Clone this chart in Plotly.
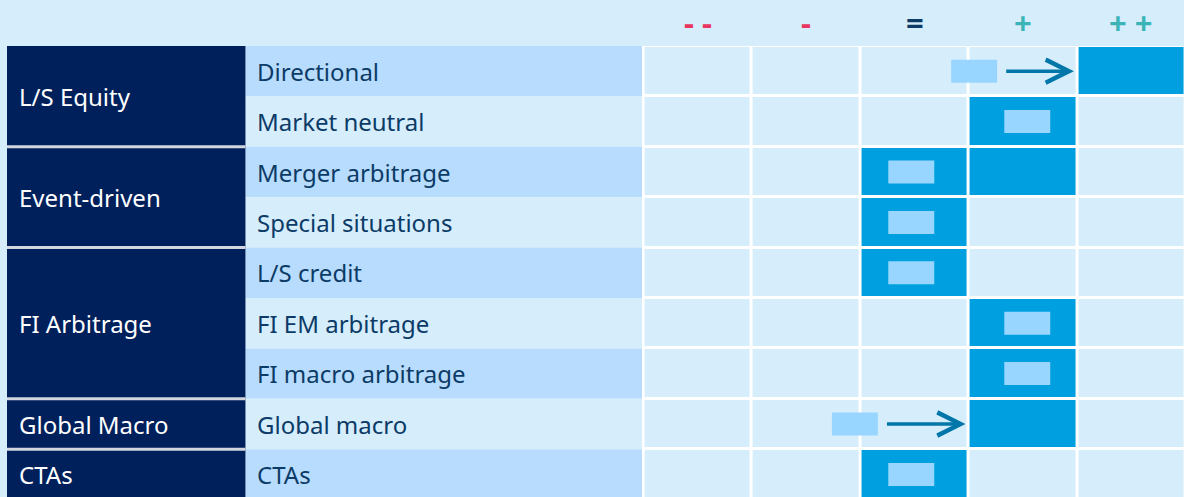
import plotly.graph_objects as go

# header scale
columns = ["- -", "-", "=", "+", "+ +"]
column_colors = ["#E8365E", "#E8365E", "#0B3B66", "#3BB4B8", "#3BB4B8"]

groups = ["L/S Equity", "Event-driven", "FI Arbitrage", "Global Macro", "CTAs"]
group_sizes = [2, 2, 3, 1, 1]

strategies = [
    "Directional", "Market neutral", "Merger arbitrage", "Special situations",
    "L/S credit", "FI EM arbitrage", "FI macro arbitrage", "Global macro", "CTAs",
]

# current view: first / last column covered (0 = "- -" ... 4 = "+ +")
current_from = [4, 3, 2, 2, 2, 3, 3, 3, 2]
current_to = [4, 3, 3, 2, 2, 3, 3, 3, 2]
# previous view, on the same column scale
previous = [2.55, 3.04, 1.97, 1.97, 1.97, 3.04, 3.04, 1.45, 1.97]

BG = "#D6EDFC"
BG_DARK = "#B8DCFD"
NAVY = "#00205C"
FILL = "#00A0E0"
PREV = "#99D6FF"
ARROW = "#0077A8"
TEXT = "#0B3B66"
FONT = "Noto Sans"

X_MIN, X_MAX = -6.372, 4.486
NAVY_LEFT, NAVY_RIGHT = X_MIN, -4.172
SUB_LEFT, SUB_RIGHT = NAVY_RIGHT, -0.514
PREV_W, PREV_H = 0.424, 0.456

n_rows = len(strategies)
rows = list(range(n_rows))

z = [[1 if current_from[r] <= c <= current_to[r] else 0 for c in range(len(columns))] for r in rows]

fig = go.Figure()

# grid of cells
fig.add_trace(go.Heatmap(
    x=list(range(len(columns))), y=rows, z=z,
    colorscale=[[0, BG], [1, FILL]], zmin=0, zmax=1,
    xgap=3, ygap=3, showscale=False, hoverinfo="skip",
))

# strategy column (alternating shades)
fig.add_trace(go.Bar(
    orientation="h", y=rows, base=[SUB_LEFT] * n_rows, x=[SUB_RIGHT - SUB_LEFT] * n_rows,
    width=1, marker=dict(color=[BG_DARK if r % 2 == 0 else BG for r in rows], line=dict(width=0)),
    hoverinfo="skip",
))

# group column
starts = [sum(group_sizes[:i]) for i in range(len(groups))]
centers = [s + (n - 1) / 2 for s, n in zip(starts, group_sizes)]
fig.add_trace(go.Bar(
    orientation="h", y=centers, base=[NAVY_LEFT] * len(groups), x=[NAVY_RIGHT - NAVY_LEFT] * len(groups),
    width=group_sizes, marker=dict(color=NAVY, line=dict(width=0)), hoverinfo="skip",
))

# previous view markers
fig.add_trace(go.Bar(
    orientation="h", y=rows, base=[p - PREV_W / 2 for p in previous], x=[PREV_W] * n_rows,
    width=PREV_H, marker=dict(color=PREV, line=dict(width=0)), hoverinfo="skip",
))

annotations = []
for k, (lab, col) in enumerate(zip(columns, column_colors)):
    annotations.append(dict(
        x=k, y=1, xref="x", yref="paper", yanchor="middle", yshift=24, showarrow=False,
        text=f"<b>{lab}</b>", font=dict(family=FONT, size=31, color=col),
    ))
for g, c in zip(groups, centers):
    annotations.append(dict(
        x=NAVY_LEFT, y=c, xref="x", yref="y", xanchor="left", xshift=9.5, showarrow=False,
        text=g, font=dict(family=FONT, size=24, color="white"),
    ))
for r, s in zip(rows, strategies):
    annotations.append(dict(
        x=SUB_LEFT, y=r, xref="x", yref="y", xanchor="left", xshift=9.5, showarrow=False,
        text=s, font=dict(family=FONT, size=24, color=TEXT),
    ))
# arrows where the view moved
for r in rows:
    if previous[r] + PREV_W / 2 < current_from[r] - 0.5:
        annotations.append(dict(
            x=current_from[r] - 0.53, y=r, ax=previous[r] + PREV_W / 2 + 0.07, ay=r,
            xref="x", yref="y", axref="x", ayref="y", text="", showarrow=True,
            arrowhead=5, arrowsize=1.3, arrowwidth=3.5, arrowcolor=ARROW, standoff=0,
        ))

# group separators
shapes = []
for s in starts[1:]:
    shapes.append(dict(
        type="line", xref="x", yref="y", x0=NAVY_LEFT, x1=NAVY_RIGHT, y0=s - 0.5, y1=s - 0.5,
        line=dict(color="#D3D6DE", width=3), layer="above",
    ))

fig.update_layout(
    width=1184, height=497,
    margin=dict(l=7, r=0, t=46, b=0),
    paper_bgcolor=BG, plot_bgcolor="white",
    barmode="overlay", showlegend=False,
    annotations=annotations, shapes=shapes,
    xaxis=dict(range=[X_MIN, X_MAX], visible=False, fixedrange=True),
    yaxis=dict(range=[n_rows - 0.552, -0.5], visible=False, fixedrange=True),
)

fig.write_html(
    "out.html",
    config={"displayModeBar": False},
    post_script="document.body.style.margin='0px';",
)
